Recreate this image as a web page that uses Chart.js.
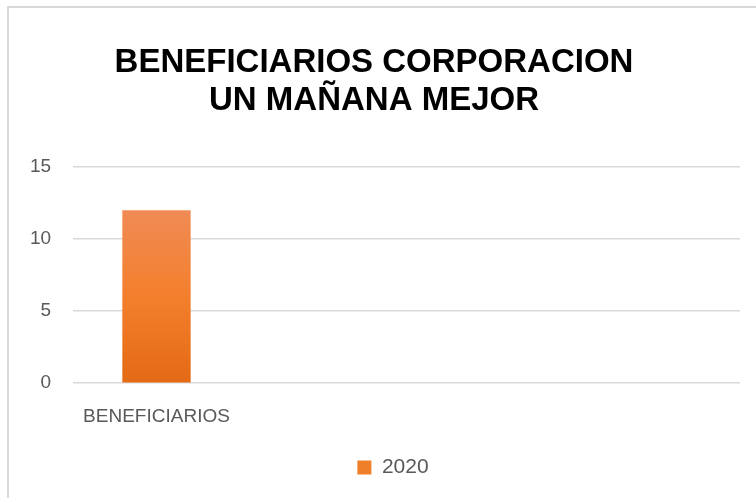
<!DOCTYPE html>
<html>
<head>
<meta charset="utf-8">
<script src="https://cdn.jsdelivr.net/npm/chart.js@4.4.1/dist/chart.umd.min.js"></script>
<style>
  html, body { margin: 0; padding: 0; background: #fff; }
  #wrap { width: 756px; height: 498px; position: relative; }
</style>
</head>
<body>
<div id="wrap"><canvas id="chart" width="756" height="498"></canvas></div>
<script>
// data
var categories = ['BENEFICIARIOS', '', '', ''];
var seriesName = '2020';
var beneficiarios = [12, null, null, null];
var titleLines = ['BENEFICIARIOS CORPORACION', 'UN MAÑANA MEJOR'];

var sans = '"Liberation Sans", Arial, sans-serif';

// orange bar, lighter at the top
function barFill(context) {
  var chart = context.chart;
  var area = chart.chartArea;
  if (!area) return '#f07f2a';
  var y0 = chart.scales.y.getPixelForValue(0);
  var y1 = chart.scales.y.getPixelForValue(12);
  var g = chart.ctx.createLinearGradient(0, y1, 0, y0);
  g.addColorStop(0, '#f08b55');
  g.addColorStop(0.5, '#f37f2c');
  g.addColorStop(1, '#e46a14');
  return g;
}

// white page plus the light frame on the left and top
var frame = {
  id: 'frame',
  beforeDraw: function(chart) {
    var ctx = chart.ctx;
    ctx.save();
    ctx.fillStyle = '#fff';
    ctx.fillRect(0, 0, chart.width, chart.height);
    ctx.strokeStyle = '#d9d9d9';
    ctx.lineWidth = 2;
    ctx.beginPath();
    ctx.moveTo(8, chart.height);
    ctx.lineTo(8, 7);
    ctx.lineTo(chart.width, 7);
    ctx.stroke();
    ctx.restore();
  }
};

// excel centres the legend a little right of the canvas middle
var nudgeLegend = {
  id: 'nudgeLegend',
  afterLayout: function(chart) {
    chart.legend.left += 19;
    chart.legend.right += 19;
  }
};

var ctx = document.getElementById('chart').getContext('2d');
var myChart = new Chart(ctx, {
  type: 'bar',
  data: {
    labels: categories,
    datasets: [{
      label: seriesName,
      data: beneficiarios,
      backgroundColor: barFill,
      borderWidth: 0,
      categoryPercentage: 1,
      barPercentage: 0.41
    }]
  },
  options: {
    responsive: false,
    animation: false,
    layout: { padding: { left: 8, right: 16, top: 0, bottom: 10 } },
    plugins: {
      title: {
        display: true,
        text: titleLines,
        color: '#000',
        font: { family: sans, size: 33, weight: 'bold', lineHeight: 1.15 },
        padding: { top: 44, bottom: 47 }
      },
      legend: {
        position: 'bottom',
        labels: {
          color: '#595959',
          font: { family: sans, size: 21 },
          boxWidth: 14,
          boxHeight: 14,
          padding: 15,
          generateLabels: function(chart) {
            return [{ text: seriesName, fillStyle: '#f07f2a', strokeStyle: '#f07f2a', lineWidth: 0, fontColor: '#595959' }];
          }
        }
      },
      tooltip: { enabled: false }
    },
    scales: {
      x: {
        grid: { display: false },
        border: { display: false },
        ticks: { color: '#595959', font: { family: sans, size: 19 }, padding: 14, maxRotation: 0 }
      },
      y: {
        min: 0,
        max: 15,
        ticks: { stepSize: 5, color: '#595959', font: { family: sans, size: 19 }, padding: 22 },
        grid: { color: '#d9d9d9', lineWidth: 1.5, drawTicks: false },
        border: { display: false }
      }
    }
  },
  plugins: [frame, nudgeLegend]
});
</script>
</body>
</html>
